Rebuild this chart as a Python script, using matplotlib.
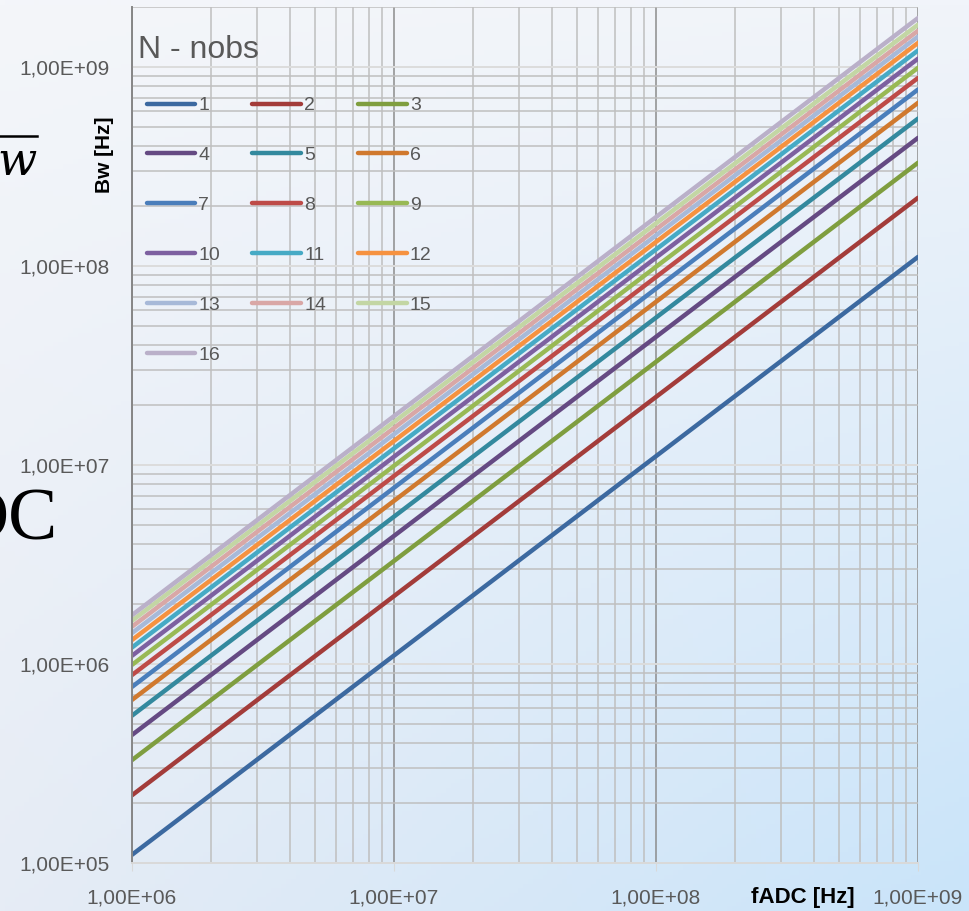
import numpy as np
import matplotlib.pyplot as plt
from matplotlib.ticker import LogLocator, FuncFormatter, NullFormatter

plt.rcParams['font.family'] = ['Liberation Sans', 'DejaVu Sans']

# data (log-log straight lines, value at both ends)
f_adc = [1e6, 1e9]
n_obs = [str(i) for i in range(1, 17)]
bw_start = [1.10e5, 2.19e5, 3.29e5, 4.40e5, 5.50e5, 6.60e5, 7.67e5, 8.80e5,
            9.90e5, 1.10e6, 1.21e6, 1.32e6, 1.43e6, 1.54e6, 1.65e6, 1.76e6]
bw_end = [1.11e8, 2.20e8, 3.30e8, 4.40e8, 5.50e8, 6.60e8, 7.70e8, 8.80e8,
          9.90e8, 1.10e9, 1.21e9, 1.32e9, 1.42e9, 1.52e9, 1.63e9, 1.76e9]
colors = ['#3c69a0', '#a33c3a', '#7f9e3f', '#654a83', '#33899e', '#d0792e',
          '#4a7ebb', '#be4b48', '#98b954', '#7d60a0', '#46aac5', '#f69240',
          '#a7b9d8', '#d9a7a6', '#c3d6a4', '#bab0c9']

fig = plt.figure(figsize=(9.69, 9.11), dpi=100)

# background gradient
bg = fig.add_axes([0, 0, 1, 1], zorder=-10)
tl = np.array([0xf4, 0xf6, 0xfa]) / 255
tr = np.array([0xf1, 0xf4, 0xfa]) / 255
bl = np.array([0xe6, 0xec, 0xf5]) / 255
br = np.array([0xc9, 0xe4, 0xfa]) / 255
u = np.linspace(0, 1, 200)[None, :, None]
v = np.linspace(0, 1, 200)[:, None, None]
img = (1 - u) * (1 - v) * tl + u * (1 - v) * tr + (1 - u) * v * bl + u * v * br
bg.imshow(img, aspect='auto', extent=[0, 1, 0, 1], origin='upper')
bg.axis('off')

# stray slide text at the left edge (cut off in the original too)
fig.text(-3 / 969, 1 - 162 / 911, 'w', fontsize=33, family='DejaVu Serif',
         style='italic', ha='left', va='center', color='black')
fig.add_artist(plt.Line2D([0, 37 / 969], [1 - 136 / 911, 1 - 136 / 911],
                          color='black', lw=1.8, transform=fig.transFigure))
fig.text(58 / 969, 1 - 522 / 911, 'DC', fontsize=53, family='Liberation Serif',
         ha='right', va='center', color='black')

ax = fig.add_axes([132 / 969, 48 / 911, (918 - 132) / 969, (863 - 7) / 911])
ax.set_facecolor('none')

lines = []
for i in range(len(n_obs)):
    ln, = ax.plot(f_adc, [bw_start[i], bw_end[i]], color=colors[i], lw=3.2,
                  solid_capstyle='round', label=n_obs[i])
    lines.append(ln)

ax.set_xscale('log')
ax.set_yscale('log')
ax.set_xlim(1e6, 1e9)
ax.set_ylim(1e5, 2e9)

fmt = FuncFormatter(lambda v, p: f'{v:.2E}'.replace('.', ','))
for a in (ax.xaxis, ax.yaxis):
    a.set_major_locator(LogLocator(base=10, numticks=20))
    a.set_minor_locator(LogLocator(base=10, subs=np.arange(2, 10), numticks=100))
    a.set_major_formatter(fmt)
    a.set_minor_formatter(NullFormatter())

ax.grid(True, which='minor', color='#bfbfbf', lw=1.1)
ax.xaxis.grid(True, which='major', color='#8c8c8c', lw=1.1)
ax.yaxis.grid(True, which='major', color='#dcdcdc', lw=1.4)
ax.set_axisbelow(True)

ax.tick_params(axis='x', which='major', length=6, color='#d9d9d9', pad=12,
               labelsize=15, labelcolor='#595959')
ax.tick_params(axis='y', which='major', length=0, pad=16,
               labelsize=15, labelcolor='#595959')
ax.tick_params(which='minor', length=0)

for s in ('top', 'right'):
    ax.spines[s].set_visible(False)
ax.spines['left'].set_color('#868686')
ax.spines['left'].set_linewidth(1.4)
ax.spines['bottom'].set_color('#d9d9d9')
ax.spines['bottom'].set_linewidth(1.4)

fig.text(104 / 969, 1 - 155 / 911, 'Bw [Hz]', rotation=90, fontsize=15,
         fontweight='bold', ha='center', va='center', color='black')
fig.text(803 / 969, 1 - 897 / 911, 'fADC [Hz]', fontsize=16,
         fontweight='bold', ha='center', va='center', color='black')

# legend title drawn separately so it can sit left of the handles
fig.text(138 / 969, 1 - 50 / 911, 'N - nobs', fontsize=23, color='#595959',
         ha='left', va='center')

# legend: reorder so column-first filling reads row by row
order = [0, 3, 6, 9, 12, 15, 1, 4, 7, 10, 13, 2, 5, 8, 11, 14]
leg = ax.legend([lines[i] for i in order], [n_obs[i] for i in order],
                ncol=3, loc='upper left',
                bbox_to_anchor=(137 / 969, 1 - 87 / 911),
                bbox_transform=fig.transFigure, frameon=False,
                fontsize=14, handlelength=2.5,
                handletextpad=0.15, labelspacing=1.66, columnspacing=1.67,
                borderpad=0, labelcolor='#595959')

fig.savefig('out.png', dpi=100)
